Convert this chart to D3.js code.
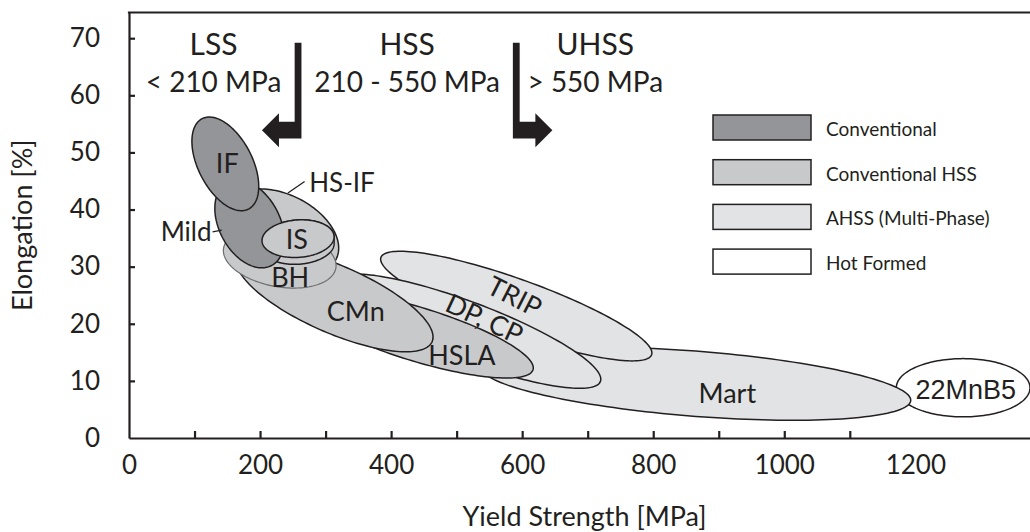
<!DOCTYPE html>
<html>
<head>
<meta charset="utf-8">
<script src="https://cdn.jsdelivr.net/npm/d3@7"></script>
<style>
    body { margin: 0; background: #fff; }
    svg { display: block; }
    text { font-family: Lato, "Open Sans", sans-serif; fill: #231f20; }
</style>
</head>
<body>
<div id="chart"></div>
<script>
// legend categories
const categories = ["Conventional", "Conventional HSS", "AHSS (Multi-Phase)", "Hot Formed"];
const categoryFill = ["#939598", "#c8c9cb", "#e2e3e4", "#ffffff"];

// steel grades, in drawing order (back to front)
// each region: centre yield strength / elongation, half spread of each, and their correlation
const grades        = ["22MnB5", "Mart", "TRIP", "DP, CP", "HSLA", "CMn", "HS-IF", "BH", "IS", "Mild", "IF"];
const gradeCategory = [3, 2, 2, 2, 1, 1, 1, 1, 1, 0, 0];
const yieldCentre   = [1273, 865, 591, 517, 439, 314, 234, 230, 258, 184, 147];
const yieldSpread   = [102, 328, 207, 203, 178, 150, 86, 86, 55, 53, 51];
const elongCentre   = [8.8, 9.5, 23.1, 18.7, 18.2, 24.3, 36.1, 31.5, 34.9, 37.5, 48.0];
const elongSpread   = [5.1, 6.4, 9.6, 10.0, 7.7, 9.2, 7.5, 5.25, 3.3, 7.7, 8.2];
const correlation   = [0, -0.45, -0.855, -0.84, -0.77, -0.72, -0.38, -0.25, 0.1, -0.35, -0.48];
const isDepth = 1.2; // IS is drawn as a thin disc

// labels written inside the regions
const labelText  = ["IF", "IS", "BH", "CMn", "HSLA", "DP, CP", "TRIP", "Mart", "22MnB5"];
const labelYield = [150, 256, 246, 346, 508, 543, 589, 913, 1277];
const labelElong = [48.2, 34.9, 28.2, 22.4, 14.7, 21.0, 24.9, 8.05, 8.4];
const labelAngle = [0, 0, 0, 0, 0, 25, 27, 0, 0];

// labels outside with a leader line
const calloutText  = ["Mild", "HS-IF"];
const calloutTextAt = [[126, 36.3], [275, 44.9]];
const calloutLine  = [[[127.5, 36.1], [141.5, 36.4]], [[242.5, 42.9], [268, 44.9]]];

// strength classes
const classNames  = ["LSS", "HSS", "UHSS"];
const classRanges = ["< 210 MPa", "210 - 550 MPa", "> 550 MPa"];
const classBounds = [258, 591];

const xTicks = [100, 200, 300, 400, 500, 600, 700, 800, 900, 1000, 1100];
const xTickLabels = [0, 200, 400, 600, 800, 1000, 1200];
const yTicks = [10, 20, 30, 40, 50, 60, 70];
const yTickLabels = [0, 10, 20, 30, 40, 50, 60, 70];

const ink = "#231f20";
const width = 1030, height = 532;

const svg = d3.select("#chart").append("svg")
    .attr("width", width)
    .attr("height", height);

const x = d3.scaleLinear().domain([0, 1375]).range([129, 1030]);
const y = d3.scaleLinear().domain([0, 74.5]).range([438, 12.5]);
const line = d3.line();

function ellipsePoints(i, shift, t0, t1) {
    const k = Math.sqrt(1 - correlation[i] * correlation[i]);
    const n = 160;
    return d3.range(n + 1).map(j => {
        const t = t0 + (t1 - t0) * j / n;
        return [
            x(yieldCentre[i] + yieldSpread[i] * Math.cos(t)),
            y(elongCentre[i] + shift + elongSpread[i] * (correlation[i] * Math.cos(t) + k * Math.sin(t)))
        ];
    });
}

// regions
const shapes = svg.append("g");
grades.forEach((name, i) => {
    let pts;
    if (name === "IS") {
        // side silhouette of the disc: upper half of top face + lower half of bottom face
        pts = ellipsePoints(i, 0, 0, Math.PI).concat(ellipsePoints(i, -isDepth, Math.PI, 2 * Math.PI));
    } else {
        pts = ellipsePoints(i, 0, 0, 2 * Math.PI);
    }
    shapes.append("path")
        .attr("d", line(pts) + "Z")
        .attr("fill", categoryFill[gradeCategory[i]])
        .attr("stroke", name === "BH" ? "#6d6e71" : ink)
        .attr("stroke-width", name === "BH" ? 1.2 : 1.5);
});
const isIndex = grades.indexOf("IS");
shapes.append("path")
    .attr("d", line(ellipsePoints(isIndex, 0, 0, 2 * Math.PI)) + "Z")
    .attr("fill", categoryFill[gradeCategory[isIndex]])
    .attr("stroke", ink)
    .attr("stroke-width", 1.5);

// region labels
svg.append("g").selectAll("text")
    .data(labelText)
    .join("text")
    .attr("transform", (d, i) => `translate(${x(labelYield[i])},${y(labelElong[i])}) rotate(${labelAngle[i]})`)
    .attr("text-anchor", "middle")
    .attr("dominant-baseline", "central")
    .style("font-size", "27px")
    .style("font-family", d => d === "22MnB5" ? "'Liberation Sans', Arial, sans-serif" : null)
    .text(d => d);

// callouts
calloutText.forEach((t, i) => {
    const seg = calloutLine[i];
    svg.append("line")
        .attr("x1", x(seg[0][0])).attr("y1", y(seg[0][1]))
        .attr("x2", x(seg[1][0])).attr("y2", y(seg[1][1]))
        .attr("stroke", ink).attr("stroke-width", 1.3);
    svg.append("text")
        .attr("x", x(calloutTextAt[i][0]))
        .attr("y", y(calloutTextAt[i][1]))
        .attr("text-anchor", i === 0 ? "end" : "start")
        .attr("dominant-baseline", "central")
        .style("font-size", "26px")
        .text(t);
});

// class boundary arrows
const arrowTop = 69.2, arrowLevel = 53.9;
classBounds.forEach((b, i) => {
    const dir = i === 0 ? -1 : 1;
    const bx = x(b), w = 3.4, h = 8.3, H = 17;
    const lv = y(arrowLevel), top = y(arrowTop);
    const outer = bx - dir * w, inner = bx + dir * w;
    const tip = outer + dir * 39.5, base = tip - dir * 17;
    const pts = [[outer, top], [outer, lv + h], [base, lv + h], [base, lv + H], [tip, lv],
                 [base, lv - H], [base, lv - h], [inner, lv - h], [inner, top]];
    svg.append("path").attr("d", line(pts) + "Z").attr("fill", ink);
});

// class labels
const classCentre = [
    x((0 + classBounds[0]) / 2),
    x((classBounds[0] + classBounds[1]) / 2),
    x(classBounds[1]) + 79
];
classNames.forEach((n, i) => {
    svg.append("text")
        .attr("x", classCentre[i]).attr("y", y(67.1))
        .attr("text-anchor", "middle")
        .style("font-size", "30px")
        .text(n);
    svg.append("text")
        .attr("x", classCentre[i]).attr("y", y(60.6))
        .attr("text-anchor", "middle")
        .style("font-size", "28px")
        .text(classRanges[i]);
});

// axes
const xAxis = svg.append("g")
    .attr("transform", `translate(0,${y(0)})`)
    .call(d3.axisBottom(x).tickValues(xTicks).tickSize(-7).tickSizeOuter(0).tickFormat(""));
const yAxis = svg.append("g")
    .attr("transform", `translate(${x(0)},0)`)
    .call(d3.axisLeft(y).tickValues(yTicks).tickSize(-6).tickSizeOuter(0).tickFormat(""));
[xAxis, yAxis].forEach(g => {
    g.selectAll("path, line").attr("stroke", ink).attr("stroke-width", 2.2);
});
svg.append("line")
    .attr("x1", x(0) - 1.1).attr("x2", width)
    .attr("y1", y.range()[1]).attr("y2", y.range()[1])
    .attr("stroke", ink).attr("stroke-width", 2.2);

svg.append("g")
    .attr("transform", `translate(0,${y(0)})`)
    .call(d3.axisBottom(x).tickValues(xTickLabels).tickSize(0).tickPadding(18).tickFormat(d => d))
    .call(g => g.select(".domain").remove())
    .selectAll("text")
    .style("font-size", "26px")
    .style("font-family", "Lato, sans-serif")
    .attr("fill", ink);

svg.append("g")
    .attr("transform", `translate(${x(0)},0)`)
    .call(d3.axisLeft(y).tickValues(yTickLabels).tickSize(0).tickPadding(29).tickFormat(d => d))
    .call(g => g.select(".domain").remove())
    .selectAll("text")
    .style("font-size", "26px")
    .style("font-family", "Lato, sans-serif")
    .attr("fill", ink);

// axis titles
svg.append("text")
    .attr("x", (x.range()[0] + x.range()[1]) / 2 + 5)
    .attr("y", 526)
    .attr("text-anchor", "middle")
    .style("font-size", "27px")
    .text("Yield Strength [MPa]");

svg.append("text")
    .attr("transform", `translate(32,${(y.range()[0] + y.range()[1]) / 2}) rotate(-90)`)
    .attr("text-anchor", "middle")
    .style("font-size", "27px")
    .text("Elongation [%]");

// legend
const legend = svg.append("g").attr("transform", "translate(713,115)");
const rows = legend.selectAll("g")
    .data(categories)
    .join("g")
    .attr("transform", (d, i) => `translate(0,${i * 44.7})`);
rows.append("rect")
    .attr("width", 98).attr("height", 25)
    .attr("fill", (d, i) => categoryFill[i])
    .attr("stroke", ink).attr("stroke-width", 1.5);
rows.append("text")
    .attr("x", 113).attr("y", 13.5)
    .attr("dominant-baseline", "central")
    .style("font-size", "19px")
    .text(d => d);
</script>
</body>
</html>
